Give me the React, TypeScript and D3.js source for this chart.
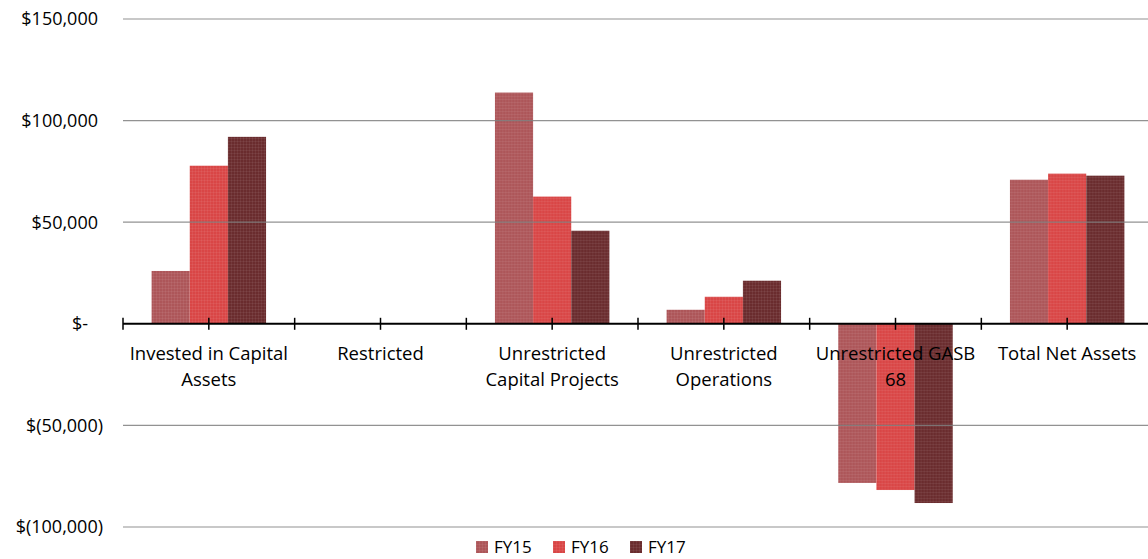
import * as d3 from 'd3'

// chart values, in dollars
const categories = [
  'Invested in Capital Assets',
  'Restricted',
  'Unrestricted Capital Projects',
  'Unrestricted Operations',
  'Unrestricted GASB 68',
  'Total Net Assets',
]
// how each category label wraps
const categoryLines = [
  ['Invested in Capital', 'Assets'],
  ['Restricted'],
  ['Unrestricted', 'Capital Projects'],
  ['Unrestricted', 'Operations'],
  ['Unrestricted GASB', '68'],
  ['Total Net Assets'],
]
const seriesNames = ['FY15', 'FY16', 'FY17']
const fy15 = [26000, 0, 113800, 6900, -78300, 70900]
const fy16 = [77800, 0, 62600, 13300, -81800, 73900]
const fy17 = [92000, 0, 45800, 21200, -88200, 72900]
const yTicks = [150000, 100000, 50000, 0, -50000, -100000]
const yTickLabels = ['$150,000', '$100,000', '$50,000', '$-', '$(50,000)', '$(100,000)']

const colors = ['#ad5659', '#d94646', '#6a2c2e']
const W = 1148
const H = 559
const FONT = "'Open Sans', 'Liberation Sans', sans-serif"

export default function App() {
  const seriesValues = [fy15, fy16, fy17]

  // plot runs past the right edge of the picture, like the source
  const x = d3.scaleBand<string>().domain(categories).range([123, 1153]).paddingInner(0).paddingOuter(0)
  const x1 = d3.scaleBand<string>().domain(seriesNames).range([0, x.bandwidth()]).paddingInner(0).paddingOuter(0.75)
  const y = d3.scaleLinear().domain([-100000, 150000]).range([527, 19])
  const y0 = y(0)

  // accounting style labels: "$-" and positives sit left of the ")" column
  const labelShift = (lbl: string) => (lbl.endsWith(')') ? 0 : lbl === '$-' ? -15 : -5)

  const legendX = d3.scalePoint<string>().domain(seriesNames).range([476, 630])

  const boundaries = categories.map(c => x(c) as number)
  const centers = categories.map(c => (x(c) as number) + x.bandwidth() / 2)

  return (
    <div style={{ position: 'fixed', left: 0, top: 0 }}>
      <svg width={W} height={H} style={{ display: 'block', background: '#fff' }} fontFamily={FONT}>
        <defs>
          {colors.map((c, i) => (
            <pattern key={i} id={`tex${i}`} width={3} height={3} patternUnits="userSpaceOnUse">
              <rect width={3} height={3} fill={c} />
              <path d="M0 0.5H3M0.5 0V3" stroke="#fff" strokeOpacity={0.06} strokeWidth={1} />
            </pattern>
          ))}
        </defs>

        {/* bars */}
        {categories.map((c, ci) => (
          <g key={c} transform={`translate(${x(c)},0)`}>
            {seriesNames.map((s, si) => {
              const v = seriesValues[si][ci]
              if (v === 0) return null
              const top = Math.min(y(v), y0)
              const h = Math.abs(y(v) - y0)
              return (
                <rect key={s} x={x1(s)} y={top} width={x1.bandwidth()} height={h} fill={`url(#tex${si})`} />
              )
            })}
          </g>
        ))}

        {/* gridlines, drawn over the bars */}
        {yTicks.filter(t => t !== 0).map(t => (
          <line key={t} x1={123} x2={W} y1={y(t)} y2={y(t)} stroke="#7f7f7f" strokeOpacity={0.85} strokeWidth={1.2} />
        ))}

        {/* y labels */}
        {yTicks.map((t, i) => (
          <text key={t} x={103 + labelShift(yTickLabels[i])} y={y(t)} dy="0.35em" textAnchor="end" fontSize={18} fill="#000">
            {yTickLabels[i]}
          </text>
        ))}

        {/* zero axis with ticks */}
        <line x1={123} x2={W} y1={y0} y2={y0} stroke="#000" strokeWidth={2} />
        {boundaries.concat(centers).map((bx, i) => (
          <line key={i} x1={bx} x2={bx} y1={y0 - 6} y2={y0 + 6} stroke="#000" strokeWidth={1.5} />
        ))}

        {/* category labels */}
        {categories.map((c, ci) => (
          <text key={c} x={centers[ci]} y={360} textAnchor="middle" fontSize={18.5} fill="#000">
            {categoryLines[ci].map((ln, li) => (
              <tspan key={li} x={centers[ci]} dy={li === 0 ? 0 : 26}>{ln}</tspan>
            ))}
          </text>
        ))}

        {/* legend */}
        {seriesNames.map((s, si) => (
          <g key={s} transform={`translate(${legendX(s)},${541})`}>
            <rect width={12} height={12} fill={`url(#tex${si})`} />
            <text x={18} y={6} dy="0.38em" fontSize={17} fill="#000">{s}</text>
          </g>
        ))}
      </svg>
    </div>
  )
}
